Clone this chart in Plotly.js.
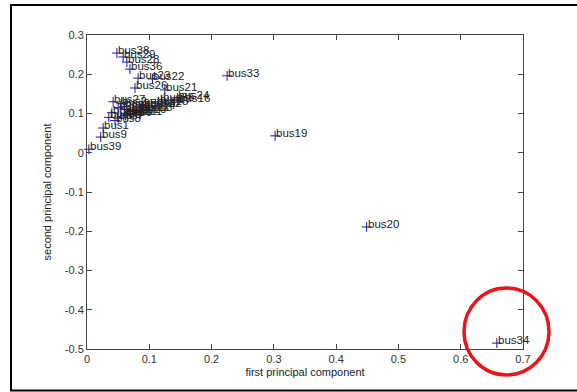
<!DOCTYPE html>
<html>
<head>
<meta charset="utf-8">
<script src="https://cdn.plot.ly/plotly-3.0.1.min.js"></script>
<style>html,body{margin:0;padding:0;background:#fff;}#chart{width:577px;height:392px;}</style>
</head>
<body>
<div id="chart"></div>
<script>
const busLabels = ["bus1","bus2","bus3","bus4","bus5","bus6","bus7","bus8","bus9","bus10",
  "bus11","bus12","bus13","bus14","bus15","bus16","bus17","bus18","bus19","bus20",
  "bus21","bus22","bus23","bus24","bus25","bus26","bus27","bus28","bus29","bus30",
  "bus31","bus32","bus33","bus34","bus35","bus36","bus37","bus38","bus39"];
const firstPC = [0.026,0.055,0.060,0.070,0.065,0.062,0.050,0.045,0.022,0.075,
  0.070,0.080,0.085,0.090,0.110,0.146,0.115,0.090,0.302,0.449,
  0.125,0.105,0.082,0.145,0.060,0.077,0.042,0.064,0.058,0.035,
  0.050,0.100,0.225,0.658,0.120,0.069,0.040,0.048,0.003];
const secondPC = [0.063,0.125,0.110,0.105,0.098,0.095,0.088,0.082,0.040,0.105,
  0.100,0.108,0.110,0.115,0.125,0.132,0.130,0.120,0.043,-0.189,
  0.160,0.188,0.190,0.140,0.118,0.165,0.130,0.231,0.244,0.090,
  0.115,0.120,0.196,-0.485,0.135,0.213,0.102,0.254,0.009];
const xTicks = [0,0.1,0.2,0.3,0.4,0.5,0.6,0.7];
const xTickText = ["0","0.1","0.2","0.3","0.4","0.5","0.6","0.7"];
const yTicks = [-0.5,-0.4,-0.3,-0.2,-0.1,0,0.1,0.2,0.3];
const yTickText = ["-0.5","-0.4","-0.3","-0.2","-0.1","0","0.1","0.2","0.3"];

const font = "Liberation Sans, Arial, sans-serif";
const markerTrace = {
  x: firstPC, y: secondPC,
  type: "scatter", mode: "markers",
  marker: {symbol: "cross-thin", size: 7, line: {width: 1, color: "#1a1a9c"}, color: "#1a1a9c"},
  cliponaxis: false, hoverinfo: "none"
};
const labelAnnotations = busLabels.map((t, i) => ({
  x: firstPC[i], y: secondPC[i], xref: "x", yref: "y", text: t,
  showarrow: false, xanchor: "left", yanchor: "middle", xshift: -1, yshift: 3,
  font: {family: font, size: 11.5, color: "#222"}
}));
const axisCommon = {
  showgrid: false, zeroline: false, showline: true, linecolor: "#444", linewidth: 1,
  mirror: "ticks", ticks: "inside", ticklen: 5, tickcolor: "#444",
  tickfont: {family: font, size: 11, color: "#333"}
};
const layout = {
  width: 577, height: 392,
  margin: {l: 87, r: 54, t: 35, b: 43},
  paper_bgcolor: "#fff", plot_bgcolor: "#fff",
  showlegend: false,
  xaxis: Object.assign({}, axisCommon, {
    range: [0, 0.7], tickvals: xTicks, ticktext: xTickText,
    title: {text: "first principal component", font: {family: font, size: 11, color: "#222"}, standoff: 4}
  }),
  yaxis: Object.assign({}, axisCommon, {
    range: [-0.5, 0.3], tickvals: yTicks, ticktext: yTickText,
    title: {text: "second principal component", font: {family: font, size: 11, color: "#222"}, standoff: 10}
  }),
  annotations: labelAnnotations,
  shapes: [
    {type: "rect", xref: "paper", yref: "paper", x0: -0.1743, x1: 1.14, y0: -0.1322, y1: 1.0955,
     line: {color: "#000", width: 2}, fillcolor: "rgba(0,0,0,0)", layer: "above"},
    {type: "circle", xref: "paper", yref: "paper", x0: 0.8647, x1: 1.0596, y0: -0.0828, y1: 0.1943,
     line: {color: "#e8151b", width: 3.5}, fillcolor: "rgba(0,0,0,0)", layer: "above"}
  ]
};
Plotly.newPlot("chart", [markerTrace], layout, {displayModeBar: false, staticPlot: true});
</script>
</body>
</html>
